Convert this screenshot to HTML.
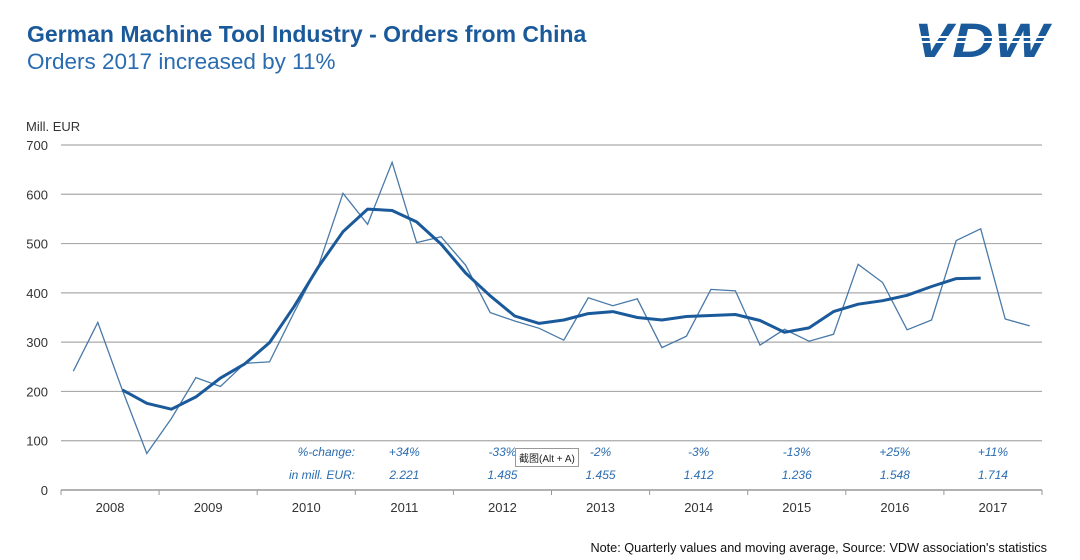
<!DOCTYPE html>
<html><head><meta charset="utf-8">
<style>
html,body{margin:0;padding:0;background:#fff;}
body{width:1080px;height:560px;position:relative;overflow:hidden;font-family:"Liberation Sans",Arial,sans-serif;}
.t1{position:absolute;left:27px;top:21px;font-size:23px;font-weight:bold;color:#1a5a9a;}
.t2{position:absolute;left:27px;top:49px;font-size:22.5px;color:#2a6cb0;}
.note{position:absolute;right:33px;top:541px;font-size:12.7px;color:#111;}
</style></head>
<body>
<div class="t1">German Machine Tool Industry - Orders from China</div>
<div class="t2">Orders 2017 increased by 11%</div>
<svg style="position:absolute;left:912px;top:18px" width="140" height="44">
<text x="2" y="39" font-family="Liberation Sans, sans-serif" font-weight="bold" font-style="italic" font-size="48" fill="#1a5a9a" textLength="134" lengthAdjust="spacingAndGlyphs">VDW</text>
<rect x="0" y="18" width="140" height="2" fill="#fff"/>
<rect x="0" y="23" width="140" height="2" fill="#fff"/>
</svg>
<svg id="chart" width="1080" height="560" style="position:absolute;left:0;top:0"></svg>
<div style="position:absolute;left:515px;top:448px;border:1px solid #999;background:#fff;font-size:10px;padding:1px 3px;color:#222;font-family:'Liberation Sans','Noto Sans CJK SC',sans-serif;">截图(Alt + A)</div>
<div class="note">Note: Quarterly values and moving average, Source: VDW association's statistics</div>
<script>
const years = ["2008","2009","2010","2011","2012","2013","2014","2015","2016","2017"];
const quarterly = [241,340,203,74, 145,228,210,257, 260,360,455,602, 539,665,502,514, 456,360,343,328, 304,390,374,388, 289,312,407,404, 294,326,302,316, 458,421,325,345, 506,530,347,333];
const movingAvg = [null,null,203,176, 164,189,227,256, 299,372,453,524, 570,567,544,499, 440,394,353,338, 345,358,362,350, 345,352,354,356, 344,320,329,362, 377,384,395,413, 429,430,null,null];
const yTicks = [0,100,200,300,400,500,600,700];
const changeYears = ["2011","2012","2013","2014","2015","2016","2017"];
const pctChange = ["+34%","-33%","-2%","-3%","-13%","+25%","+11%"];
const annualTotals = ["2.221","1.485","1.455","1.412","1.236","1.548","1.714"];

const svg = document.getElementById('chart');
const NS = 'http://www.w3.org/2000/svg';
const X0 = 61, X1 = 1042, Y0 = 490, YTOP = 145, VMAX = 700;
const yearW = (X1 - X0) / years.length;
const qW = yearW / 4;
function xq(i){ return X0 + (i + 0.5) * qW; }
function xYear(k){ return X0 + (k + 0.5) * yearW; }
function y(v){ return Y0 - v / VMAX * (Y0 - YTOP); }
function mk(tag, attrs){ const e = document.createElementNS(NS, tag); for (const k in attrs) e.setAttribute(k, attrs[k]); svg.appendChild(e); return e; }

yTicks.forEach(v => {
  if (v > 0) {
    const g = mk('line', {x1: X0, x2: X1, y1: y(v), y2: y(v), stroke: '#aaa', 'stroke-width': 1.2});
    
    
  }
  const t = mk('text', {x: 48, y: y(v) + 5, 'text-anchor': 'end', 'font-size': 13, fill: '#333'});
  t.textContent = v;
  
  
});
const yt = mk('text', {x: 26, y: 131, 'font-size': 13, fill: '#333'});
yt.textContent = 'Mill. EUR';



const ax = mk('line', {x1: X0, x2: X1, y1: Y0, y2: Y0, stroke: '#999', 'stroke-width': 1.5});


for (let k = 0; k <= years.length; k++) {
  const tk = mk('line', {x1: X0 + k * yearW, x2: X0 + k * yearW, y1: Y0, y2: Y0 + 5, stroke: '#999', 'stroke-width': 1});
  
  
}
years.forEach((yr, k) => {
  const t = mk('text', {x: xYear(k), y: 512, 'text-anchor': 'middle', 'font-size': 13, fill: '#333'});
  t.textContent = yr;
  
  
});

const l1 = mk('text', {x: 355, y: 456, 'text-anchor': 'end', 'font-size': 12, 'font-style': 'italic', fill: '#2a6cb0'});
l1.textContent = '%-change:';


const l2 = mk('text', {x: 355, y: 479, 'text-anchor': 'end', 'font-size': 12, 'font-style': 'italic', fill: '#2a6cb0'});
l2.textContent = 'in mill. EUR:';


changeYears.forEach((yr, j) => {
  const k = years.indexOf(yr);
  const a = mk('text', {x: xYear(k), y: 456, 'text-anchor': 'middle', 'font-size': 12, 'font-style': 'italic', fill: '#2a6cb0'});
  a.textContent = pctChange[j];
  
  
  const b = mk('text', {x: xYear(k), y: 479, 'text-anchor': 'middle', 'font-size': 12, 'font-style': 'italic', fill: '#2a6cb0'});
  b.textContent = annualTotals[j];
  
  
});

const qp = quarterly.map((v, i) => xq(i).toFixed(1) + ',' + y(v).toFixed(1)).join(' ');
const ql = mk('polyline', {points: qp, fill: 'none', stroke: '#4a7aa8', 'stroke-width': 1.3});



const mp = movingAvg.map((v, i) => v == null ? null : xq(i).toFixed(1) + ',' + y(v).toFixed(1)).filter(p => p).join(' ');
const ml = mk('polyline', {points: mp, fill: 'none', stroke: '#1a5a9a', 'stroke-width': 3, 'stroke-linejoin': 'round'});


</script>
</body></html>
